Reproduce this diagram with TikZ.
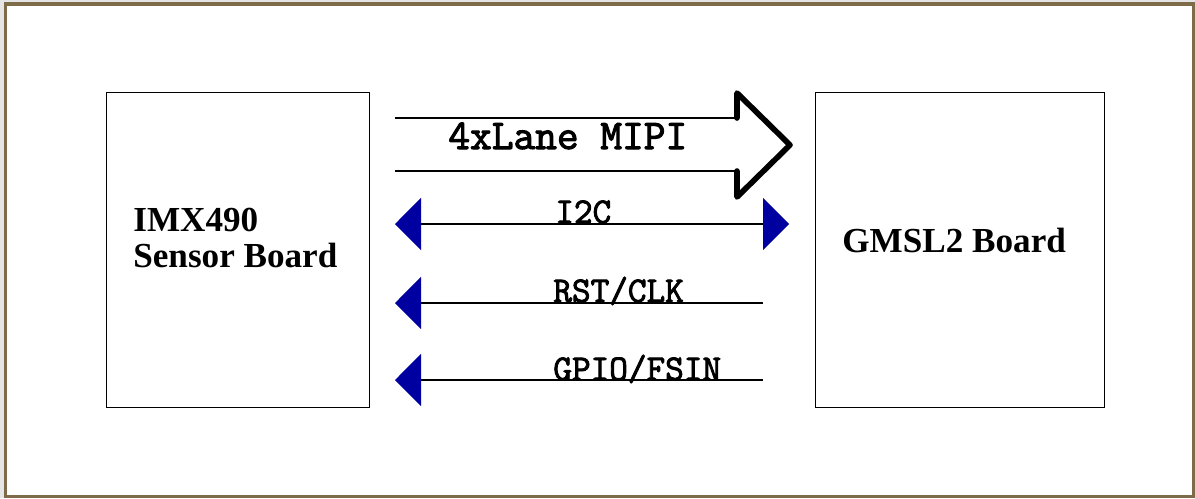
\documentclass[tikz,border=0pt]{standalone}
\usepackage{fontspec}
\setmainfont{Liberation Serif}
\setmonofont{Latin Modern Mono}[AutoFakeBold=2.5]
\usetikzlibrary{arrows.meta}
\definecolor{framebrown}{HTML}{7D6B4A}
\definecolor{tipblue}{HTML}{0000A0}

\begin{document}
\begin{tikzpicture}[x=0.02cm, y=-0.02cm,
  board/.style = {draw, line width=0.8pt, inner sep=0},
  lbl/.style = {font=\fontsize{20pt}{20pt}\selectfont\bfseries, inner sep=0},
  sig/.style = {font=\fontsize{20.6pt}{22pt}\selectfont\ttfamily\bfseries, inner sep=0, anchor=base west},
  wire/.style = {line width=0.85pt},
  btip/.tip = {Triangle[length=0.52cm, width=1.04cm, color=tipblue]}]
\fill[black!10] (0,0) rectangle (1195,498);
\useasboundingbox (0,0) rectangle (1195,498);
\draw[framebrown, fill=white, line width=1.8pt] (5.5,4) rectangle (1193.5,496.5);

\node[board, minimum width=5.26cm, minimum height=6.3cm, anchor=north west] (imx) at (106,92) {};
\node[board, minimum width=5.78cm, minimum height=6.3cm, anchor=north west] (gmsl) at (815,92) {};
\node[lbl, align=left, anchor=west] (imxtxt) at (133,238) {IMX490\\Sensor Board};
\node[lbl, anchor=base west] (gmsltxt) at (842,252) {GMSL2 Board};

\coordinate (mipiA) at (395,118);
\coordinate (mipiB) at (395,171);
\coordinate (headtop) at (737,93);
\coordinate (headtip) at (790,145);
\coordinate (headbot) at (737,197);
\draw[wire] (mipiA) -- (mipiA -| headtop);
\draw[wire] (mipiB) -- (mipiB -| headtop);
\draw[line width=3.2pt, line join=round, line cap=round] (mipiA -| headtop) -- (headtop) -- (headtip) -- (headbot) -- (mipiB -| headtop);
\node[sig, font=\fontsize{24pt}{24pt}\selectfont\ttfamily\bfseries] (mipi) at (448,149) {4xLane MIPI};

\coordinate (i2cL) at (395,224);
\coordinate (i2cR) at (789,224);
\coordinate (rstL) at (395,303);
\coordinate (rstR) at (763,303);
\coordinate (gpioL) at (395,380);
\coordinate (gpioR) at (763,380);
\draw[wire, btip-btip] (i2cL) -- (i2cR);
\draw[wire, -btip] (rstR) -- (rstL);
\draw[wire, -btip] (gpioR) -- (gpioL);
\node[sig] (i2c) at (555,223) {I2C};
\node[sig] (rst) at (553,302) {RST/CLK};
\node[sig] (gpio) at (553,380) {GPIO/FSIN};
\end{tikzpicture}
\end{document}
